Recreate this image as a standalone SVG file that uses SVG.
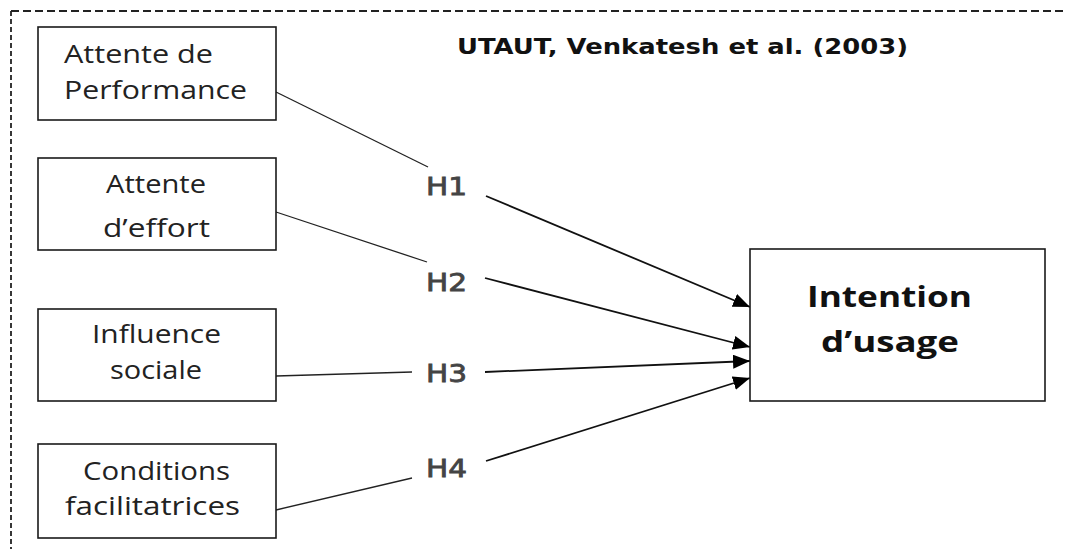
<svg xmlns="http://www.w3.org/2000/svg" width="1066" height="549" viewBox="0 0 1066 549">
<style>
.box{fill:#fff;stroke:#1a1a1a;stroke-width:1.6}
.lbl{font-family:"Open Sans","Liberation Sans",sans-serif;font-size:25px;fill:#222}
.big{font-family:"Open Sans","Liberation Sans",sans-serif;font-size:28px;font-weight:bold;fill:#111}
.h{font-family:"DejaVu Sans","Liberation Sans",sans-serif;font-size:24px;fill:#444;stroke:#444;stroke-width:0.8}
.title{font-family:"DejaVu Sans","Liberation Sans",sans-serif;font-size:21px;font-weight:bold;fill:#111}
.thin{fill:none;stroke:#222;stroke-width:1.3}
.arr{fill:none;stroke:#111;stroke-width:1.8;marker-end:url(#ah)}
.frame{fill:none;stroke:#222;stroke-width:1.8}
</style>
<defs>
<marker id="ah" markerUnits="userSpaceOnUse" markerWidth="18" markerHeight="14" refX="17" refY="7" orient="auto">
<path d="M0,0 L17,7 L0,14 z" fill="#000"/>
</marker>
</defs>
<rect width="1066" height="549" fill="#fff"/>
<g id="frame">
<line class="frame" x1="11" y1="11" x2="1066" y2="11" stroke-dasharray="8 4"/>
<line class="frame" x1="11" y1="11" x2="11" y2="549" stroke-dasharray="5 3"/>
</g>
<text class="title" x="457" y="54" textLength="451" lengthAdjust="spacingAndGlyphs">UTAUT, Venkatesh et al. (2003)</text>
<g id="connectors">
<path class="thin" d="M276,92 L428,167"/>
<path class="arr" d="M486,196 L750,307"/>
<path class="thin" d="M276,212 L427,262"/>
<path class="arr" d="M485,278 L750,347"/>
<path class="thin" d="M276,376 L412,372"/>
<path class="arr" d="M485,372 L750,361"/>
<path class="thin" d="M276,510 L412,478"/>
<path class="arr" d="M486,461 L750,378"/>
<text class="h" x="426" y="195" textLength="41" lengthAdjust="spacingAndGlyphs">H1</text>
<text class="h" x="426" y="291" textLength="41" lengthAdjust="spacingAndGlyphs">H2</text>
<text class="h" x="426" y="382" textLength="41" lengthAdjust="spacingAndGlyphs">H3</text>
<text class="h" x="426" y="477" textLength="41" lengthAdjust="spacingAndGlyphs">H4</text>
</g>
<g id="node-performance">
<rect class="box" x="38" y="27" width="238" height="93"/>
<text class="lbl" x="64" y="63" textLength="149" lengthAdjust="spacingAndGlyphs">Attente de</text>
<text class="lbl" x="64" y="99" textLength="183" lengthAdjust="spacingAndGlyphs">Performance</text>
</g>
<g id="node-effort">
<rect class="box" x="38" y="158" width="238" height="92"/>
<text class="lbl" x="106" y="193" textLength="100" lengthAdjust="spacingAndGlyphs">Attente</text>
<text class="lbl" x="103" y="237" textLength="107" lengthAdjust="spacingAndGlyphs">d’effort</text>
</g>
<g id="node-influence">
<rect class="box" x="38" y="309" width="238" height="92"/>
<text class="lbl" x="92" y="343" textLength="129" lengthAdjust="spacingAndGlyphs">Influence</text>
<text class="lbl" x="110" y="379" textLength="92" lengthAdjust="spacingAndGlyphs">sociale</text>
</g>
<g id="node-conditions">
<rect class="box" x="38" y="444" width="238" height="94"/>
<text class="lbl" x="83" y="480" textLength="147" lengthAdjust="spacingAndGlyphs">Conditions</text>
<text class="lbl" x="65" y="515" textLength="175" lengthAdjust="spacingAndGlyphs">facilitatrices</text>
</g>
<g id="node-intention">
<rect class="box" x="750" y="249" width="295" height="152"/>
<text class="big" x="807" y="307" textLength="165" lengthAdjust="spacingAndGlyphs">Intention</text>
<text class="big" x="821" y="352" textLength="138" lengthAdjust="spacingAndGlyphs">d’usage</text>
</g>
</svg>
